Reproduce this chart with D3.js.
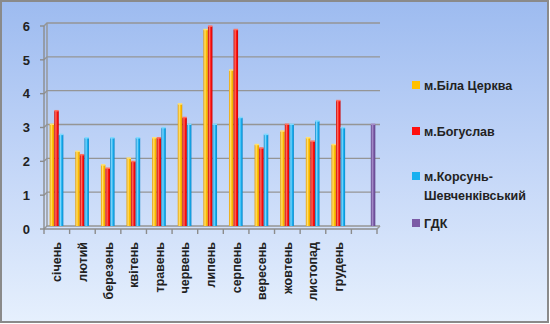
<!DOCTYPE html>
<html>
<head>
<meta charset="utf-8">
<script src="https://cdn.jsdelivr.net/npm/d3@7"></script>
<style>
  html, body { margin: 0; padding: 0; background: #fff; }
  svg { display: block; }
  text { font-family: "Liberation Sans", Arial, sans-serif; font-weight: bold; fill: #222; }
</style>
</head>
<body>
<script>
// Monthly categories; the last, unlabelled slot holds the limit value (ГДК)
const months = ["січень", "лютий", "березень", "квітень", "травень", "червень",
  "липень", "серпень", "вересень", "жовтень", "листопад", "грудень", ""];
const seriesNames = ["м.Біла Церква", "м.Богуслав", "м.Корсунь-Шевченківський", "ГДК"];
const bilaTserkva = [3.0, 2.2, 1.8, 2.0, 2.6, 3.6, 5.8, 4.6, 2.4, 2.8, 2.6, 2.4, null];
const bohuslav    = [3.4, 2.1, 1.7, 1.9, 2.6, 3.2, 5.9, 5.8, 2.3, 3.0, 2.5, 3.7, null];
const korsun      = [2.7, 2.6, 2.6, 2.6, 2.9, 3.0, 3.0, 3.2, 2.7, 3.0, 3.1, 2.9, null];
const gdk         = [null, null, null, null, null, null, null, null, null, null, null, null, 3.0];
const yTicks = [0, 1, 2, 3, 4, 5, 6];

const seriesValues = [bilaTserkva, bohuslav, korsun, gdk];
const colors = [
  { base: "#ffc000", dark: "#e39a00", light: "#ffe070" },
  { base: "#ff1010", dark: "#c80000", light: "#ff7060" },
  { base: "#18b0f0", dark: "#0a86c8", light: "#80d8ff" },
  { base: "#7b5ba6", dark: "#5d4188", light: "#a48bc8" }
];

const W = 550, H = 324;
const svg = d3.select("body").append("svg").attr("width", W).attr("height", H);
const defs = svg.append("defs");

// background
const bg = defs.append("linearGradient").attr("id", "bg").attr("x1", 0).attr("y1", 0).attr("x2", 0).attr("y2", 1);
bg.append("stop").attr("offset", "0%").attr("stop-color", "#9dbbf0");
bg.append("stop").attr("offset", "55%").attr("stop-color", "#c6d8f8");
bg.append("stop").attr("offset", "100%").attr("stop-color", "#e6f0fd");
svg.append("rect").attr("x", 1).attr("y", 1).attr("width", W - 3).attr("height", H - 3)
  .attr("fill", "url(#bg)").attr("stroke", "#8a8a8a").attr("stroke-width", 2);

colors.forEach((c, i) => {
  const g = defs.append("linearGradient").attr("id", "bar" + i).attr("x1", 0).attr("y1", 0).attr("x2", 1).attr("y2", 0);
  g.append("stop").attr("offset", "0%").attr("stop-color", c.dark);
  g.append("stop").attr("offset", "35%").attr("stop-color", c.light);
  g.append("stop").attr("offset", "65%").attr("stop-color", c.base);
  g.append("stop").attr("offset", "100%").attr("stop-color", c.dark);
});

// 3D depth offset between the front axis and the back wall
const dx = 3, dy = -3;
const frontLeft = 44, frontRight = 377, floorFront = 229;

const y = d3.scaleLinear().domain([0, 6]).range([floorFront + dy, 26 + dy]);
const x0 = d3.scaleBand().domain(d3.range(months.length)).range([frontLeft, frontRight]).paddingInner(0.28).paddingOuter(0.14);
const xCat = d3.scaleBand().domain(d3.range(months.length)).range([frontLeft, frontRight]);
const x1 = d3.scaleBand().domain(d3.range(seriesNames.length)).range([0, x0.bandwidth()]).padding(0.02);

// gridlines on the back wall with slanted joins to the front axis
const grid = svg.append("g").attr("stroke", "#959595").attr("stroke-width", 1.4).attr("fill", "none");
yTicks.forEach(t => {
  const yy = y(t);
  grid.append("path").attr("d", `M${frontLeft},${yy - dy}L${frontLeft + dx},${yy}L${frontRight + dx},${yy}`);
});
// back-wall verticals and floor
grid.append("line").attr("x1", frontLeft + dx).attr("x2", frontLeft + dx).attr("y1", y(6)).attr("y2", y(0));
grid.append("path").attr("d", `M${frontRight + dx},${y(0)}L${frontRight},${y(0) - dy}`);

// bars
seriesValues.forEach((vals, si) => {
  const pts = vals.map((v, i) => ({ v, i })).filter(d => d.v != null);
  svg.append("g").selectAll("rect")
    .data(pts)
    .join("rect")
    .attr("x", d => x0(d.i) + x1(si) + dx - 1)
    .attr("y", d => y(d.v))
    .attr("width", x1.bandwidth())
    .attr("height", d => y(0) - y(d.v))
    .attr("fill", "url(#bar" + si + ")");
  // top caps
  svg.append("g").selectAll("rect")
    .data(pts)
    .join("rect")
    .attr("x", d => x0(d.i) + x1(si) + dx - 1)
    .attr("y", d => y(d.v) - 1)
    .attr("width", x1.bandwidth())
    .attr("height", 1.5)
    .attr("fill", colors[si].light);
});

// front axes
const axisG = svg.append("g").attr("stroke", "#8c8c8c").attr("stroke-width", 1.4).attr("fill", "none");
axisG.append("line").attr("x1", frontLeft).attr("x2", frontLeft).attr("y1", y(6) - dy).attr("y2", floorFront);
axisG.append("line").attr("x1", frontLeft).attr("x2", frontRight).attr("y1", floorFront).attr("y2", floorFront);
yTicks.forEach(t => {
  axisG.append("line").attr("x1", frontLeft - 4).attr("x2", frontLeft).attr("y1", y(t) - dy).attr("y2", y(t) - dy);
});
d3.range(months.length + 1).forEach(i => {
  const xx = i < months.length ? xCat(i) : frontRight;
  axisG.append("line").attr("x1", xx).attr("x2", xx).attr("y1", floorFront).attr("y2", floorFront + 5);
});

// y tick labels
svg.append("g").selectAll("text").data(yTicks).join("text")
  .attr("x", 30).attr("y", d => y(d) - dy).attr("dy", "0.36em")
  .attr("text-anchor", "end").style("font-size", "13px").text(d => d);

// month labels, rotated
svg.append("g").selectAll("text").data(months).join("text")
  .attr("transform", (d, i) => `translate(${xCat(i) + xCat.bandwidth() / 2},${floorFront + 13}) rotate(-90)`)
  .attr("text-anchor", "end").attr("dy", "0.36em")
  .style("font-size", "12.5px").text(d => d);

// legend
const legendRows = [
  { i: 0, lines: ["м.Біла Церква"], y: 85 },
  { i: 1, lines: ["м.Богуслав"], y: 131 },
  { i: 2, lines: ["м.Корсунь-", "Шевченківський"], y: 176 },
  { i: 3, lines: ["ГДК"], y: 223 }
];
const leg = svg.append("g");
legendRows.forEach(r => {
  leg.append("rect").attr("x", 412).attr("y", r.y - 4).attr("width", 8).attr("height", 8).attr("fill", colors[r.i].base);
  r.lines.forEach((ln, k) => {
    leg.append("text").attr("x", 424).attr("y", r.y + k * 19).attr("dy", "0.36em")
      .style("font-size", "12.5px").text(ln);
  });
});
</script>
</body>
</html>
